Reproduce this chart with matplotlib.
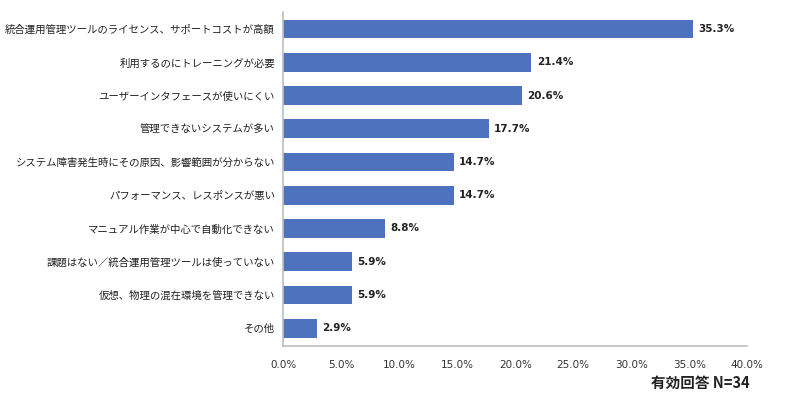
import matplotlib
matplotlib.use('Agg')
import matplotlib.pyplot as plt
from matplotlib.ticker import FuncFormatter

plt.rcParams['font.family'] = ['Noto Sans CJK JP', 'DejaVu Sans']

categories = [
    '統合運用管理ツールのライセンス、サポートコストが高額',
    '利用するのにトレーニングが必要',
    'ユーザーインタフェースが使いにくい',
    '管理できないシステムが多い',
    'システム障害発生時にその原因、影響範囲が分からない',
    'パフォーマンス、レスポンスが悪い',
    'マニュアル作業が中心で自動化できない',
    '課題はない／統合運用管理ツールは使っていない',
    '仮想、物理の混在環境を管理できない',
    'その他',
]
values = [35.3, 21.4, 20.6, 17.7, 14.7, 14.7, 8.8, 5.9, 5.9, 2.9]
xticks = [0, 5, 10, 15, 20, 25, 30, 35, 40]

fig = plt.figure(figsize=(8, 4.03), dpi=100)
ax = fig.add_axes([0.354, 0.141, 0.58, 0.829])

pos = list(range(len(categories)))
ax.barh(pos, values, height=0.56, color='#4E72BE')
ax.set_ylim(len(categories) - 0.46, -0.51)
ax.set_xlim(0, 40)

for p, v in zip(pos, values):
    ax.text(v + 0.45, p, '%.1f%%' % v, va='center', ha='left',
            fontsize=7.5, fontweight='bold', color='#222222',
            family='DejaVu Sans')

ax.set_yticks(pos)
ax.set_yticklabels(categories, fontsize=7.5, color='#222222')
ax.set_xticks(xticks)
ax.xaxis.set_major_formatter(FuncFormatter(lambda x, _: '%.1f%%' % x))
ax.tick_params(axis='x', labelsize=7.5, colors='#333333', length=0, pad=10)
for lbl in ax.get_xticklabels():
    lbl.set_family('DejaVu Sans')
ax.tick_params(axis='y', length=0, pad=6)

for s in ['top', 'right']:
    ax.spines[s].set_visible(False)
ax.spines['left'].set_color('#BFBFBF')
ax.spines['bottom'].set_color('#BFBFBF')
ax.spines['left'].set_linewidth(1.2)
ax.spines['bottom'].set_linewidth(1.2)

fig.text(0.9375, 0.05, '有効回答 N=34', ha='right', va='center',
         fontsize=10.5, fontweight='bold', color='#222222')

fig.savefig('out.png', dpi=100)
